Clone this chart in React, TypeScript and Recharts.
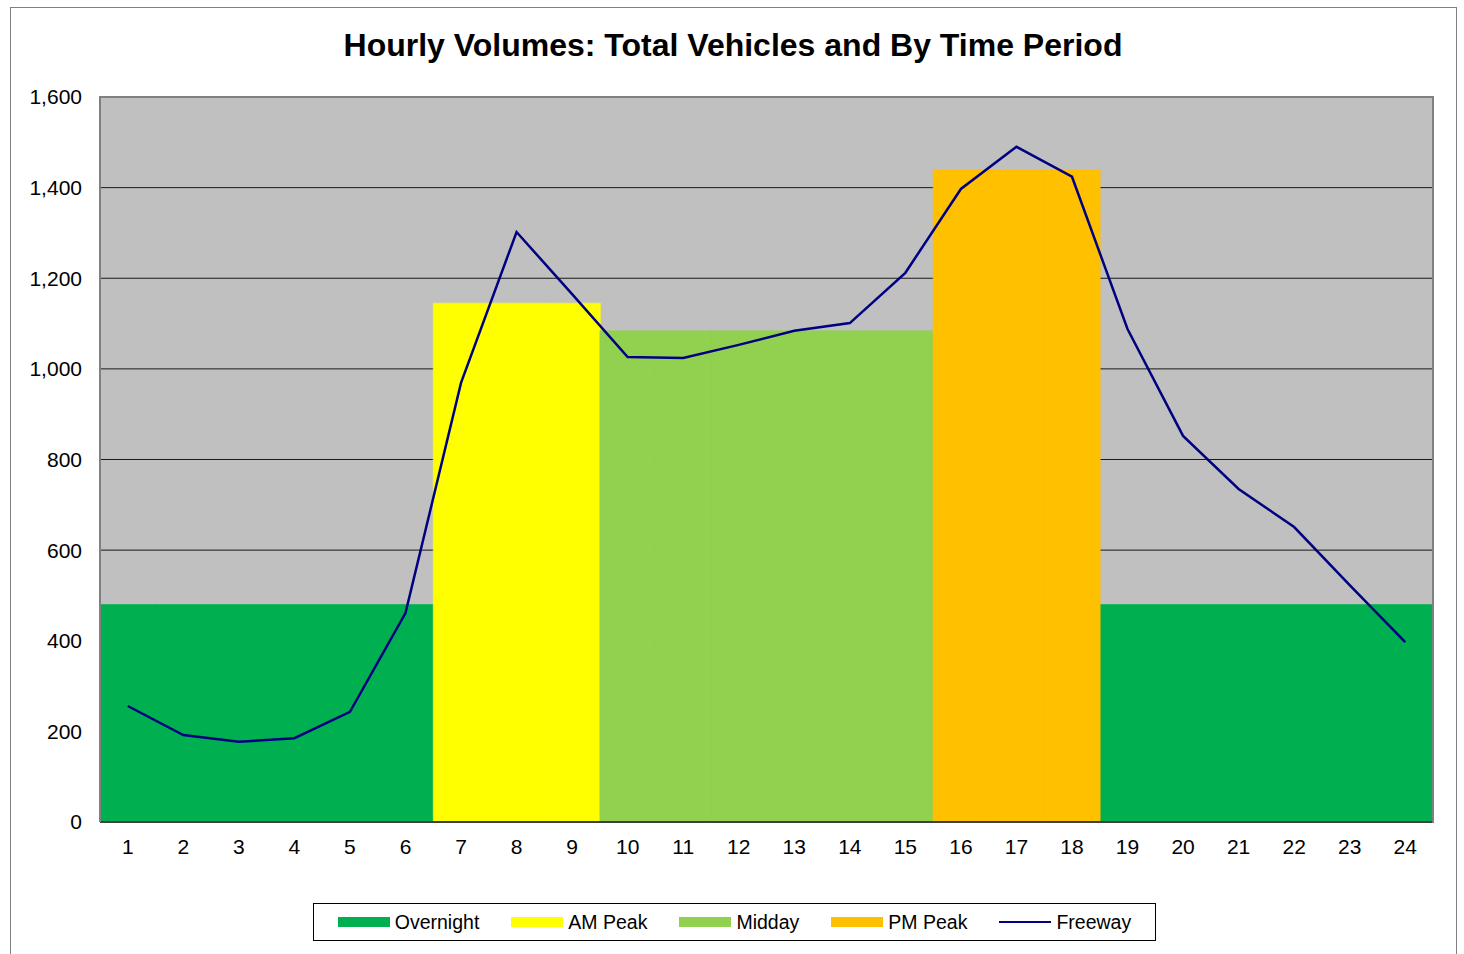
import { ComposedChart, Bar, Line, XAxis, YAxis, CartesianGrid } from 'recharts';

const hours = ['1', '2', '3', '4', '5', '6', '7', '8', '9', '10', '11', '12', '13', '14', '15', '16', '17', '18', '19', '20', '21', '22', '23', '24'];
const overnight = [480, 480, 480, 480, 480, 480, 0, 0, 0, 0, 0, 0, 0, 0, 0, 0, 0, 0, 480, 480, 480, 480, 480, 480];
const amPeak = [0, 0, 0, 0, 0, 0, 1145, 1145, 1145, 0, 0, 0, 0, 0, 0, 0, 0, 0, 0, 0, 0, 0, 0, 0];
const midday = [0, 0, 0, 0, 0, 0, 0, 0, 0, 1084, 1084, 1084, 1084, 1084, 1084, 0, 0, 0, 0, 0, 0, 0, 0, 0];
const pmPeak = [0, 0, 0, 0, 0, 0, 0, 0, 0, 0, 0, 0, 0, 0, 0, 1439, 1439, 1439, 0, 0, 0, 0, 0, 0];
const freeway = [256, 192, 177, 185, 243, 461, 969, 1302, 1165, 1026, 1024, 1053, 1084, 1101, 1212, 1397, 1490, 1424, 1088, 852, 735, 651, 523, 397];
const yTicks = [0, 200, 400, 600, 800, 1000, 1200, 1400, 1600];

const data = hours.map((h, i) => ({
  hour: h,
  overnight: overnight[i],
  amPeak: amPeak[i],
  midday: midday[i],
  pmPeak: pmPeak[i],
  freeway: freeway[i],
}));

const legendItems = [
  { label: 'Overnight', color: '#00B050', line: false },
  { label: 'AM Peak', color: '#FFFF00', line: false },
  { label: 'Midday', color: '#92D050', line: false },
  { label: 'PM Peak', color: '#FFC000', line: false },
  { label: 'Freeway', color: '#000080', line: true },
];

const font = '"Liberation Sans", Arial, sans-serif';

const ChartLegend = () => (
  <div
    style={{
      position: 'absolute',
      left: 313,
      top: 903,
      width: 843,
      height: 38,
      border: '1px solid #000',
      background: '#fff',
      display: 'flex',
      alignItems: 'center',
      justifyContent: 'center',
      gap: 32,
      fontFamily: font,
      fontSize: 19.5,
      color: '#000',
      boxSizing: 'border-box',
    }}
  >
    {legendItems.map((it) => (
      <div key={it.label} style={{ display: 'flex', alignItems: 'center' }}>
        <div
          style={{
            width: 52,
            height: it.line ? 2 : 10,
            background: it.color,
            marginRight: 5,
          }}
        />
        <span>{it.label}</span>
      </div>
    ))}
  </div>
);

export default function App() {
  return (
    <div style={{ position: 'absolute', left: 0, top: 0, width: 1464, height: 954, background: '#fff', overflow: 'hidden' }}>
      <div
        style={{
          position: 'absolute',
          left: 10,
          top: 7,
          width: 1447,
          height: 980,
          border: '1px solid #808080',
          boxSizing: 'border-box',
        }}
      />
      <div
        style={{
          position: 'absolute',
          left: 0,
          top: 27,
          width: 1466,
          textAlign: 'center',
          fontFamily: font,
          fontWeight: 'bold',
          fontSize: 32,
          color: '#000',
        }}
      >
        Hourly Volumes: Total Vehicles and By Time Period
      </div>
      <div style={{ position: 'absolute', left: 0, top: 0 }}>
        <ComposedChart
          width={1464}
          height={954}
          data={data}
          margin={{ top: 97, right: 31, left: 0, bottom: 92 }}
          barCategoryGap={0}
          barGap={0}
        >
          <CartesianGrid fill="#C0C0C0" vertical={false} stroke="#1a1a1a" strokeWidth={1} />
          <XAxis
            dataKey="hour"
            height={40}
            tickLine={false}
            tickSize={0}
            tickMargin={17}
            axisLine={{ stroke: '#404040', strokeWidth: 2 }}
            tick={{ fill: '#000', fontSize: 21, fontFamily: font }}
            interval={0}
          />
          <YAxis
            width={100}
            domain={[0, 1600]}
            ticks={yTicks}
            tickLine={false}
            tickSize={0}
            tickMargin={18}
            axisLine={{ stroke: '#808080', strokeWidth: 2 }}
            tick={{ fill: '#000', fontSize: 21, fontFamily: font }}
            tickFormatter={(v: number) => v.toLocaleString('en-US')}
          />
          <Bar dataKey="overnight" stackId="a" fill="#00B050" stroke="#00B050" strokeWidth={0.6} isAnimationActive={false} />
          <Bar dataKey="amPeak" stackId="a" fill="#FFFF00" stroke="#FFFF00" strokeWidth={0.6} isAnimationActive={false} />
          <Bar dataKey="midday" stackId="a" fill="#92D050" stroke="#92D050" strokeWidth={0.6} isAnimationActive={false} />
          <Bar dataKey="pmPeak" stackId="a" fill="#FFC000" stroke="#FFC000" strokeWidth={0.6} isAnimationActive={false} />
          <Line
            dataKey="freeway"
            type="linear"
            stroke="#000080"
            strokeWidth={2.5}
            dot={false}
            isAnimationActive={false}
          />
        </ComposedChart>
      </div>
      <div
        style={{
          position: 'absolute',
          left: 99,
          top: 96,
          width: 1335,
          height: 727,
          borderTop: '2px solid #808080',
          borderRight: '2px solid #808080',
          boxSizing: 'border-box',
          pointerEvents: 'none',
        }}
      />
      <ChartLegend />
    </div>
  );
}
